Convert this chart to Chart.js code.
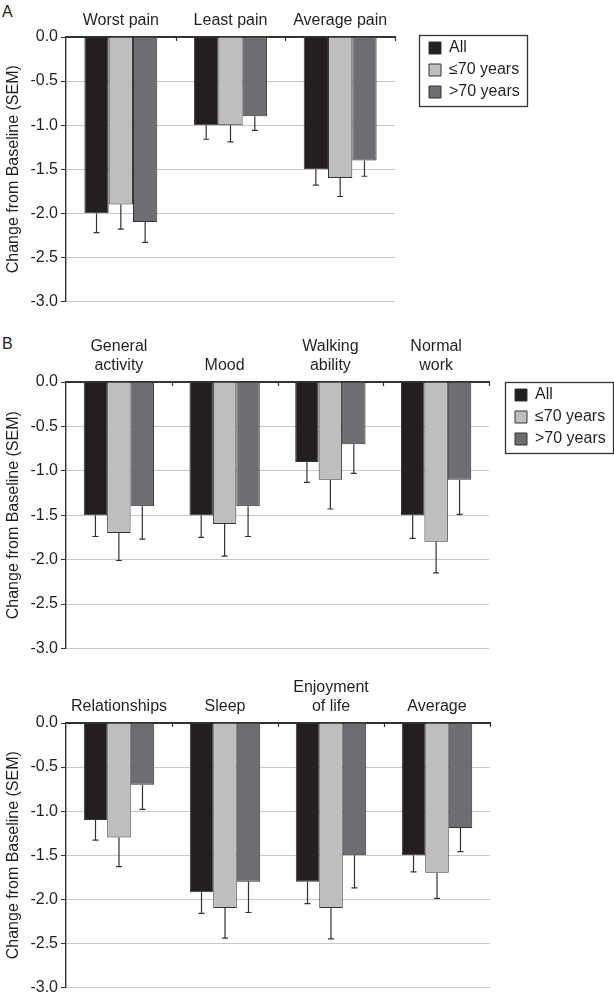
<!DOCTYPE html>
<html><head><meta charset="utf-8">
<script src="https://cdn.jsdelivr.net/npm/chart.js@4.4.1/dist/chart.umd.min.js"></script>
<style>
html,body{margin:0;padding:0;background:#fff;overflow:hidden;width:614px;height:1000px;}
.wrap{position:absolute;left:0;}
.lab{position:absolute;left:2px;font:16px "Liberation Sans",Arial,sans-serif;color:#231f20;line-height:16px;}
</style></head><body>
<div class="lab" style="top:4px">A</div>
<div class="lab" style="top:336px">B</div>
<div class="wrap" style="top:0;width:614px;height:314px"><canvas id="cA"></canvas></div>
<div class="wrap" style="top:320px;width:620px;height:341px"><canvas id="cB1"></canvas></div>
<div class="wrap" style="top:662px;width:614px;height:338px"><canvas id="cB2"></canvas></div>
<script>
// ---- data ----
const seriesNames = ['All', '\u226470 years', '>70 years'];
const seriesColors = ['#231f20', '#bcbec0', '#6d6e71'];

const painCategories = ['Worst pain', 'Least pain', 'Average pain'];
const painAll  = [-2.0, -1.0, -1.5];
const painLe70 = [-1.9, -1.0, -1.6];
const painGt70 = [-2.1, -0.9, -1.4];
const painAllSem  = [0.22, 0.16, 0.18];
const painLe70Sem = [0.28, 0.19, 0.21];
const painGt70Sem = [0.23, 0.16, 0.18];

const interfCategories1 = [['General', 'activity'], 'Mood', ['Walking', 'ability'], ['Normal', 'work']];
const interf1All  = [-1.5, -1.5, -0.9, -1.5];
const interf1Le70 = [-1.7, -1.6, -1.1, -1.8];
const interf1Gt70 = [-1.4, -1.4, -0.7, -1.1];
const interf1AllSem  = [0.24, 0.25, 0.23, 0.26];
const interf1Le70Sem = [0.31, 0.36, 0.33, 0.35];
const interf1Gt70Sem = [0.37, 0.34, 0.33, 0.39];

const interfCategories2 = ['Relationships', 'Sleep', ['Enjoyment', 'of life'], 'Average'];
const interf2All  = [-1.1, -1.92, -1.8, -1.5];
const interf2Le70 = [-1.3, -2.1, -2.1, -1.7];
const interf2Gt70 = [-0.7, -1.8, -1.5, -1.19];
const interf2AllSem  = [0.23, 0.24, 0.25, 0.19];
const interf2Le70Sem = [0.33, 0.34, 0.35, 0.29];
const interf2Gt70Sem = [0.28, 0.35, 0.37, 0.27];

const yMin = -3.0, yMax = 0.0, yStep = 0.5;
const yTitle = 'Change from Baseline (SEM)';

// ---- styling / plugins ----
const FONT = '"Liberation Sans", Arial, Helvetica, sans-serif';
const INK = '#231f20';
Chart.defaults.font.family = FONT;
Chart.defaults.color = INK;

const errorBars = {
  id: 'errorBars',
  afterDatasetsDraw(chart) {
    const ctx = chart.ctx, ys = chart.scales.y;
    chart.data.datasets.forEach((ds, i) => {
      const meta = chart.getDatasetMeta(i);
      meta.data.forEach((bar, j) => {
        const v = ds.data[j], e = ds.sem[j];
        const yEnd = ys.getPixelForValue(v - e);
        ctx.save();
        ctx.strokeStyle = '#333';
        ctx.lineWidth = 1.2;
        ctx.beginPath();
        ctx.moveTo(bar.x, bar.y);
        ctx.lineTo(bar.x, yEnd);
        ctx.moveTo(bar.x - 3, yEnd);
        ctx.lineTo(bar.x + 3, yEnd);
        ctx.stroke();
        ctx.restore();
      });
    });
  }
};

const axisDeco = {
  id: 'axisDeco',
  afterLayout(chart, args, opts) {
    const lg = chart.legend;
    if (lg && chart.options.plugins.legend.display && opts.legendLeft != null) {
      const w = lg.width, h = lg.height;
      lg.left = opts.legendLeft; lg.right = lg.left + w;
      lg.top = opts.legendTop; lg.bottom = lg.top + h;
    }
  },
  afterDraw(chart, args, opts) {
    const ctx = chart.ctx, a = chart.chartArea;
    const n = chart.data.labels.length;
    const w = (a.right - a.left) / n;
    ctx.save();
    ctx.strokeStyle = '#333';
    ctx.lineWidth = 1.2;
    ctx.beginPath();
    for (let k = 1; k <= n; k++) {
      const x = Math.round(a.left + k * w) + 0.5;
      ctx.moveTo(x, a.top);
      ctx.lineTo(x, a.top + 4);
    }
    ctx.stroke();
    if (chart.legend && chart.options.plugins.legend.display) {
      const hb = chart.legend.legendHitBoxes;
      if (hb && hb.length) {
        let l = Infinity, t = Infinity, r = -Infinity, b = -Infinity;
        hb.forEach(h => {
          l = Math.min(l, h.left); t = Math.min(t, h.top);
          r = Math.max(r, h.left + h.width); b = Math.max(b, h.top + h.height);
        });
        ctx.lineWidth = 1.3;
        ctx.strokeStyle = '#333';
        ctx.strokeRect(Math.round(l - 10) + 0.5, Math.round(t - 5) + 0.5,
                       Math.round(r - l + 17), Math.round(b - t + 11));
      }
    }
    ctx.restore();
  }
};

function makeDatasets(vals, sems) {
  return vals.map((v, i) => ({
    label: seriesNames[i],
    data: v,
    sem: sems[i],
    backgroundColor: seriesColors[i],
    borderColor: '#333',
    borderWidth: 1,
    categoryPercentage: 0.665,
    barPercentage: 1.0
  }));
}

function makeChart(id, labels, vals, sems, cfg) {
  const scales = {
    x: {
      position: 'top',
      grid: { display: false, drawTicks: false },
      border: { display: true, color: '#333', width: 1.4 },
      ticks: { font: { size: 16 }, color: INK, padding: 7, maxRotation: 0, autoSkip: false },
      afterFit: s => { s.height = cfg.xHeight; }
    },
    y: {
      min: yMin, max: yMax,
      ticks: { stepSize: yStep, font: { size: 16 }, color: INK, padding: 3,
               callback: v => Number(v).toFixed(1) },
      grid: {
        color: c => (c.tick && c.tick.value === 0) ? '#333' : '#c8c8c8',
        tickColor: '#333', tickLength: 5, lineWidth: 1
      },
      border: { display: true, color: '#333', width: 1.4 },
      title: { display: true, text: yTitle, font: { size: 16 }, color: INK, padding: { top: 4, bottom: 4 } },
      afterFit: s => { s.width = 66; }
    }
  };
  return new Chart(document.getElementById(id), {
    type: 'bar',
    data: { labels: labels, datasets: makeDatasets(vals, sems) },
    options: {
      responsive: true,
      maintainAspectRatio: false,
      animation: false,
      layout: { padding: { left: 0, top: 0, right: cfg.padRight, bottom: 10 } },
      scales: scales,
      plugins: {
        tooltip: { enabled: false },
        axisDeco: { legendLeft: cfg.legendLeft, legendTop: cfg.legendTop },
        legend: {
          display: !!cfg.legend,
          position: 'chartArea',
          align: 'start',
          labels: { boxWidth: 12, boxHeight: 12, padding: 6, font: { size: 16 }, color: INK }
        }
      }
    },
    plugins: [errorBars, axisDeco]
  });
}

makeChart('cA', painCategories, [painAll, painLe70, painGt70],
  [painAllSem, painLe70Sem, painGt70Sem],
  { xHeight: 37, legend: true, padRight: 219, legendLeft: 423, legendTop: 34 });

makeChart('cB1', interfCategories1, [interf1All, interf1Le70, interf1Gt70],
  [interf1AllSem, interf1Le70Sem, interf1Gt70Sem],
  { xHeight: 62, legend: true, padRight: 131, legendLeft: 509, legendTop: 61 });

makeChart('cB2', interfCategories2, [interf2All, interf2Le70, interf2Gt70],
  [interf2AllSem, interf2Le70Sem, interf2Gt70Sem],
  { xHeight: 61, legend: false, padRight: 124 });
</script>
</body></html>
